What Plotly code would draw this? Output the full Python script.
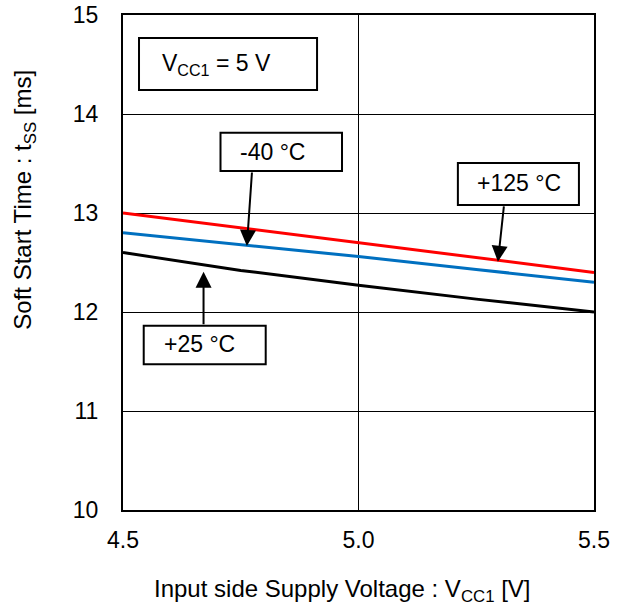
import plotly.graph_objects as go

# Data
vcc1 = [4.5, 4.75, 5.0, 5.25, 5.5]
t_m40 = [12.80, 12.68, 12.56, 12.43, 12.30]
t_p25 = [12.60, 12.42, 12.27, 12.13, 12.00]
t_p125 = [13.00, 12.85, 12.70, 12.55, 12.40]

x_ticks = [4.5, 5.0, 5.5]
x_tick_labels = ["4.5", "5.0", "5.5"]
y_ticks = [10, 11, 12, 13, 14, 15]

FONT = "Liberation Sans, Arial, sans-serif"
FS = 23

fig = go.Figure()
fig.add_trace(go.Scatter(x=vcc1, y=t_p25, mode="lines",
                         line=dict(color="#000000", width=3), name="+25 °C"))
fig.add_trace(go.Scatter(x=vcc1, y=t_m40, mode="lines",
                         line=dict(color="#0070C0", width=3), name="-40 °C"))
fig.add_trace(go.Scatter(x=vcc1, y=t_p125, mode="lines",
                         line=dict(color="#FF0000", width=3), name="+125 °C"))

# label boxes
boxes = [
    (4.534, 4.912, 14.242, 14.768),
    (4.707, 4.965, 13.424, 13.811),
    (5.211, 5.468, 13.081, 13.505),
    (4.544, 4.803, 11.472, 11.862),
]
for x0, x1, y0, y1 in boxes:
    fig.add_shape(type="rect", xref="x", yref="y", x0=x0, x1=x1, y0=y0, y1=y1,
                  line=dict(color="black", width=2), fillcolor="white", layer="above")

labels = [
    ("V<sub>CC1</sub> = 5 V", 4.579, 14.505),
    ("-40 °C", 4.744, 13.616),
    ("+125 °C", 5.247, 13.30),
    ("+25 °C", 4.582, 11.675),
]
for txt, x, y in labels:
    fig.add_annotation(text=txt, x=x, y=y, xref="x", yref="y", xanchor="left",
                       yanchor="middle", showarrow=False,
                       font=dict(family=FONT, size=FS, color="black"))

arrows = [
    (4.763, 12.667, 4.774, 13.424),
    (5.296, 12.508, 5.309, 13.081),
    (4.671, 12.407, 4.671, 11.862),
]
for x, y, ax, ay in arrows:
    fig.add_annotation(text="", x=x, y=y, ax=ax, ay=ay, xref="x", yref="y",
                       axref="x", ayref="y", showarrow=True, arrowhead=2,
                       arrowsize=1.6, arrowwidth=2, arrowcolor="black")

# axis titles
fig.add_annotation(text="Soft Start Time : t<sub>SS</sub> [ms]", xref="paper", yref="paper",
                   x=-0.208, y=0.627, textangle=-90, showarrow=False,
                   xanchor="center", yanchor="middle",
                   font=dict(family=FONT, size=24, color="black"))
fig.add_annotation(text="Input side Supply Voltage : V<sub>CC1</sub> [V]", xref="paper",
                   yref="paper", x=0.465, y=-0.163, showarrow=False,
                   xanchor="center", yanchor="middle",
                   font=dict(family=FONT, size=24, color="black"))

axis_common = dict(showline=True, linecolor="black", linewidth=2, mirror=True,
                   showgrid=True, gridcolor="black", gridwidth=1, zeroline=False,
                   automargin=False,
                   ticks="", tickfont=dict(family=FONT, size=FS, color="black"))

fig.update_xaxes(range=[4.5, 5.5], tickvals=x_ticks, ticktext=x_tick_labels,
                 ticklabelstandoff=8, **axis_common)
fig.update_yaxes(range=[10, 15], tickvals=y_ticks, ticklabelstandoff=18, **axis_common)

fig.update_layout(width=622, height=608, showlegend=False,
                  plot_bgcolor="white", paper_bgcolor="white",
                  margin=dict(l=123, r=28, t=15, b=98),
                  font=dict(family=FONT, size=FS, color="black"))

fig.write_html("out.html")
